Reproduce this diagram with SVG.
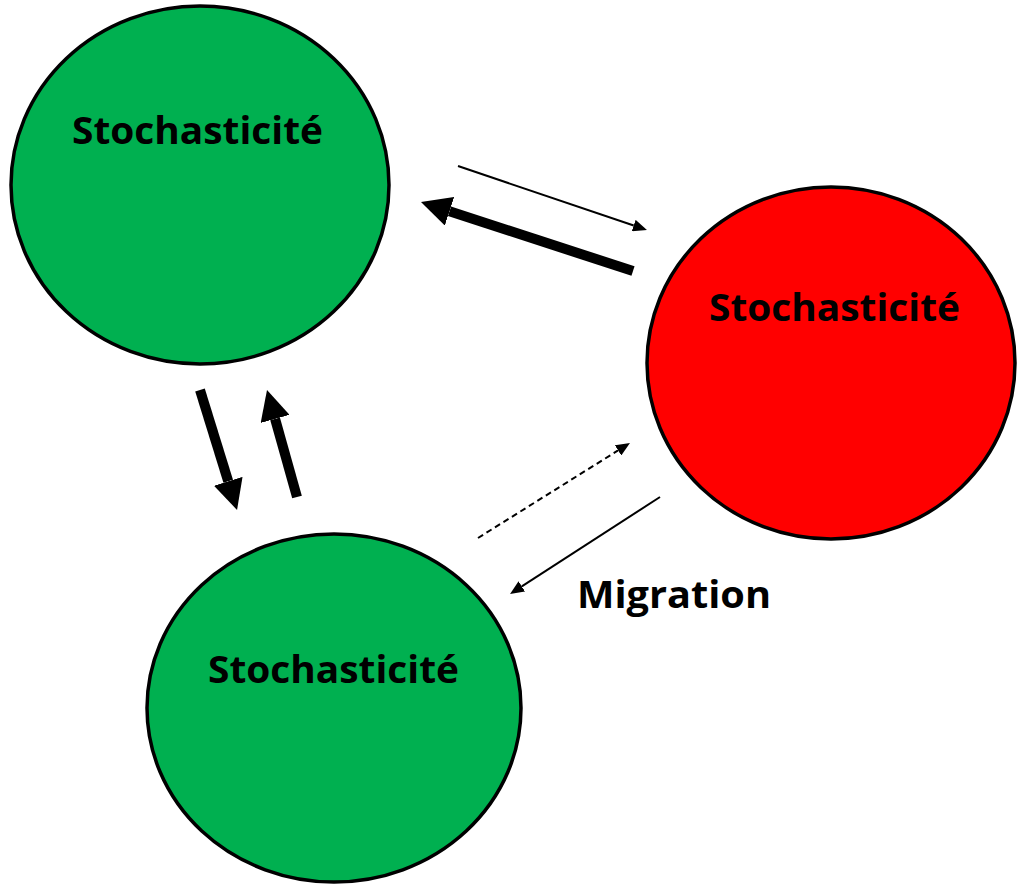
<svg xmlns="http://www.w3.org/2000/svg" width="1017" height="885" viewBox="0 0 1017 885">
<defs>
<style>
.node{stroke:#000;stroke-width:3.5}
.green{fill:#00B050}
.red{fill:#FF0000}
.lbl{font-family:"Open Sans","Liberation Sans",sans-serif;font-weight:bold;font-size:37px;fill:#000;font-variant-ligatures:none}
.thick{stroke:#000;stroke-width:10;fill:none}
.thin{stroke:#000;stroke-width:2;fill:none}
.dash{stroke:#000;stroke-width:2;fill:none;stroke-dasharray:6 4}
</style>
<marker id="hBig" markerUnits="userSpaceOnUse" markerWidth="30" markerHeight="30" refX="0" refY="15" orient="auto" viewBox="0 0 30 30"><path d="M0,0 L30,15 L0,30 z" fill="#000"/></marker>
<marker id="hSmall" markerUnits="userSpaceOnUse" markerWidth="14" markerHeight="12" refX="0" refY="6" orient="auto" viewBox="0 0 14 12"><path d="M0,0 L14,6 L0,12 z" fill="#000"/></marker>
</defs>
<rect width="1017" height="885" fill="#fff"/>
<g id="node-top">
<ellipse class="node green" cx="200" cy="185" rx="189" ry="179"/>
<text class="lbl" x="72" y="144" textLength="251" lengthAdjust="spacingAndGlyphs">Stochasticité</text>
</g>
<g id="node-red">
<ellipse class="node red" cx="831" cy="363" rx="184" ry="176"/>
<text class="lbl" x="709" y="321" textLength="251" lengthAdjust="spacingAndGlyphs">Stochasticité</text>
</g>
<g id="node-bottom">
<ellipse class="node green" cx="334" cy="708" rx="187" ry="174"/>
<text class="lbl" x="208" y="683" textLength="251" lengthAdjust="spacingAndGlyphs">Stochasticité</text>
</g>
<g id="connectors">
<line class="thin" x1="458" y1="166" x2="633.7" y2="225.5" marker-end="url(#hSmall)"/>
<line class="thick" x1="633" y1="271" x2="449.5" y2="211.3" marker-end="url(#hBig)"/>
<line class="thick" x1="200" y1="390" x2="228.2" y2="481.3" marker-end="url(#hBig)"/>
<line class="thick" x1="297" y1="497" x2="275.1" y2="418.9" marker-end="url(#hBig)"/>
<line class="dash" x1="478" y1="538" x2="618.1" y2="450.4" marker-end="url(#hSmall)"/>
<line class="thin" x1="660" y1="497" x2="521.8" y2="586.4" marker-end="url(#hSmall)"/>
</g>
<text id="label-migration" class="lbl" x="577" y="608" textLength="194" lengthAdjust="spacingAndGlyphs">Migration</text>
</svg>
